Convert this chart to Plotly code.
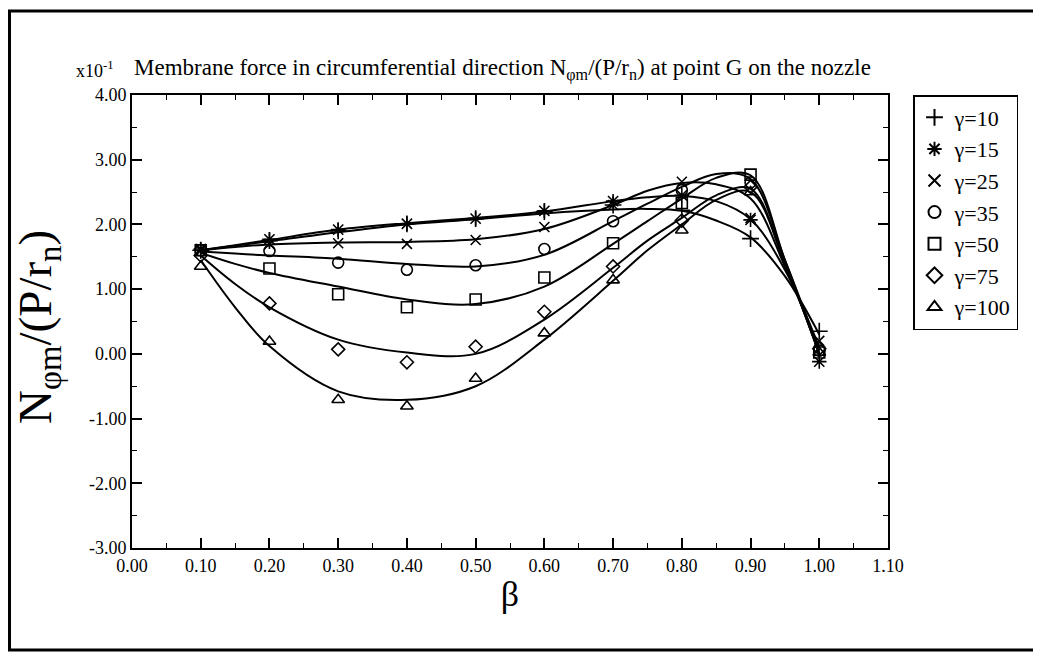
import plotly.graph_objects as go

beta = [0.1, 0.2, 0.3, 0.4, 0.5, 0.6, 0.7, 0.8, 0.9, 1.0]
gamma_labels = ["γ=10", "γ=15", "γ=25", "γ=35", "γ=50", "γ=75", "γ=100"]

pts_g10 = [1.60, 1.75, 1.90, 2.01, 2.09, 2.20, 2.30, 2.22, 1.78, 0.35]
pts_g15 = [1.62, 1.77, 1.92, 2.01, 2.09, 2.21, 2.36, 2.45, 2.07, -0.12]
pts_g25 = [1.60, 1.70, 1.71, 1.70, 1.76, 1.96, 2.30, 2.66, 2.10, 0.20]
pts_g35 = [1.60, 1.59, 1.41, 1.30, 1.37, 1.62, 2.05, 2.53, 2.65, 0.05]
pts_g50 = [1.60, 1.32, 0.92, 0.72, 0.84, 1.18, 1.71, 2.33, 2.77, 0.02]
pts_g75 = [1.52, 0.78, 0.07, -0.13, 0.11, 0.65, 1.35, 2.06, 2.58, 0.08]
pts_g100 = [1.35, 0.19, -0.71, -0.81, -0.38, 0.32, 1.14, 1.91, 2.50, 0.02]

beta_fit = [0.1, 0.15, 0.2, 0.3, 0.4, 0.5, 0.6, 0.7, 0.75, 0.8, 0.85, 0.9, 0.95, 1.0]
fit_g10 = [1.60, 1.67, 1.74, 1.88, 2.00, 2.08, 2.17, 2.23, 2.24, 2.21, 2.06, 1.80, 1.20, 0.30]
fit_g15 = [1.60, 1.68, 1.76, 1.92, 2.02, 2.10, 2.20, 2.36, 2.42, 2.44, 2.36, 2.08, 1.30, 0.10]
fit_g25 = [1.60, 1.65, 1.69, 1.72, 1.73, 1.77, 1.93, 2.30, 2.52, 2.64, 2.62, 2.40, 1.35, 0.05]
fit_g35 = [1.58, 1.55, 1.52, 1.47, 1.39, 1.35, 1.53, 2.05, 2.32, 2.58, 2.78, 2.70, 1.45, 0.05]
fit_g50 = [1.56, 1.39, 1.25, 1.04, 0.84, 0.77, 1.04, 1.70, 2.05, 2.40, 2.72, 2.76, 1.45, 0.00]
fit_g75 = [1.52, 1.08, 0.72, 0.22, 0.02, 0.00, 0.53, 1.33, 1.75, 2.10, 2.45, 2.55, 1.40, 0.00]
fit_g100 = [1.45, 0.72, 0.12, -0.58, -0.71, -0.50, 0.22, 1.13, 1.60, 2.00, 2.38, 2.50, 1.40, 0.00]

points = [pts_g10, pts_g15, pts_g25, pts_g35, pts_g50, pts_g75, pts_g100]
fits = [fit_g10, fit_g15, fit_g25, fit_g35, fit_g50, fit_g75, fit_g100]
symbols = ["cross-thin-open", "asterisk-open", "x-thin-open", "circle-open",
           "square-open", "diamond-open", "triangle-up-open"]
sizes = [12, 12, 10, 11, 11, 10, 11]

x_ticks = [0.0, 0.1, 0.2, 0.3, 0.4, 0.5, 0.6, 0.7, 0.8, 0.9, 1.0, 1.1]
y_ticks = [-3, -2, -1, 0, 1, 2, 3, 4]

SERIF = "Liberation Serif"

fig = go.Figure()
for fy in fits:
    fig.add_trace(go.Scatter(x=beta_fit, y=fy, mode="lines",
                             line=dict(color="black", width=2, shape="spline", smoothing=1.0),
                             showlegend=False, hoverinfo="skip"))
for name, py, sym, sz in zip(gamma_labels, points, symbols, sizes):
    fig.add_trace(go.Scatter(x=beta, y=py, mode="markers", name=name,
                             marker=dict(symbol=sym, size=sz, color="black",
                                         line=dict(color="black", width=1.6))))

# page has an 8px body margin, so figure coords = reference coords - 8
OFF = 8
W, H = 1041 - OFF, 655 - OFF
L, R, T, B = 132 - OFF, 888 - OFF, 95 - OFF, 548 - OFF
pw, ph = R - L, B - T

def px(xref_px):
    return (xref_px - OFF - L) / pw

def py_(yref_px):
    return (B - (yref_px - OFF)) / ph

axis_common = dict(showline=True, linecolor="black", linewidth=2, mirror="allticks",
                   ticks="inside", ticklen=10, tickwidth=1.5, tickcolor="black",
                   showgrid=False, zeroline=False,
                   tickfont=dict(family=SERIF, size=18, color="black"))

fig.update_xaxes(range=[0, 1.1], tickvals=x_ticks,
                 ticktext=[f"{v:.2f}" for v in x_ticks],
                 minor=dict(ticks="inside", ticklen=5, tickwidth=1.2, tickcolor="black", dtick=0.05, tick0=0),
                 title=dict(text="β", font=dict(family=SERIF, size=36, color="black"), standoff=6),
                 **axis_common)
fig.update_yaxes(range=[-3, 4], tickvals=y_ticks,
                 ticktext=[f"{v:.2f}" for v in y_ticks],
                 minor=dict(ticks="inside", ticklen=5, tickwidth=1.2, tickcolor="black", dtick=0.5, tick0=0),
                 **axis_common)

fig.update_layout(
    width=W, height=H,
    margin=dict(l=L, r=W - R, t=T, b=H - B, autoexpand=False),
    paper_bgcolor="white", plot_bgcolor="white",
    showlegend=True,
    legend=dict(x=px(913), y=py_(95), xanchor="left", yanchor="top",
                bordercolor="black", borderwidth=1.5, bgcolor="white",
                font=dict(family=SERIF, size=22, color="black"),
                itemwidth=30, tracegroupgap=0, itemsizing="constant"),
    annotations=[
        dict(text="Membrane force in circumferential direction N<sub>φm</sub>/(P/r<sub>n</sub>) at point G on the nozzle",
             x=px(132), y=py_(70), xref="paper", yref="paper", xanchor="left", yanchor="middle",
             showarrow=False, font=dict(family=SERIF, size=23, color="black")),
        dict(text="x10<sup>-1</sup>", x=px(116), y=py_(70), xref="paper", yref="paper",
             xanchor="right", yanchor="middle", showarrow=False,
             font=dict(family=SERIF, size=18, color="black")),
        dict(text="N<sub>φm</sub>/(P/r<sub>n</sub>)", x=px(38), y=py_(327),
             xref="paper", yref="paper", xanchor="center", yanchor="middle",
             textangle=-90, showarrow=False,
             font=dict(family=SERIF, size=47, color="black")),
    ],
    shapes=[dict(type="rect", xref="paper", yref="paper",
                 x0=px(9.5), x1=px(1035), y0=py_(650), y1=py_(11),
                 line=dict(color="black", width=3))],
)

fig.write_html("out.html")
